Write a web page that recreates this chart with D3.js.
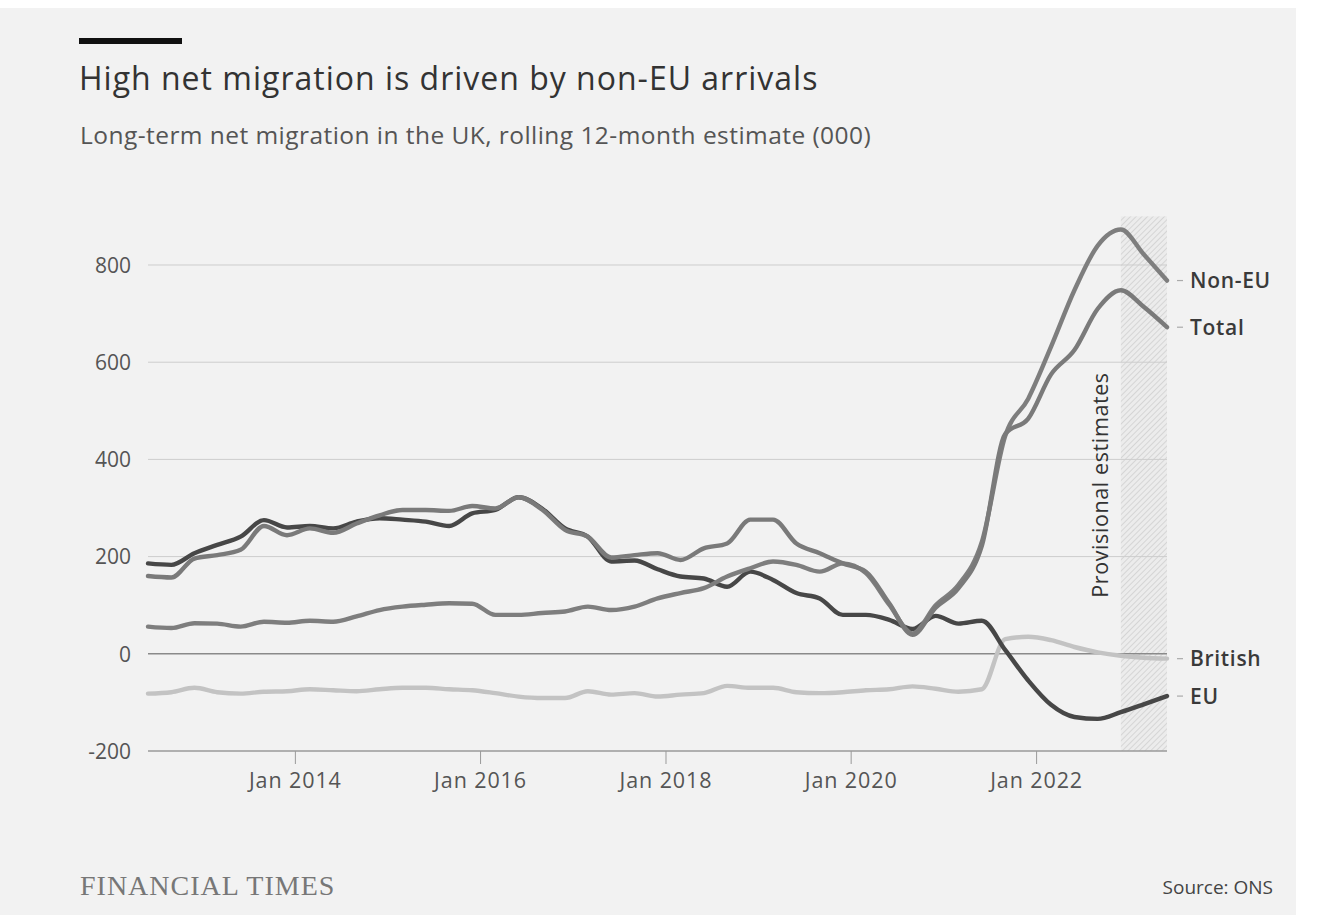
<!DOCTYPE html>
<html>
<head>
<meta charset="utf-8">
<script src="https://cdn.jsdelivr.net/npm/d3@7"></script>
<style>
  html, body { margin: 0; padding: 0; background: #ffffff; }
  svg { display: block; }
</style>
</head>
<body>
<svg id="chart" width="1323" height="921"></svg>
<script>
// ---------- DATA (thousands, rolling 12-month, quarterly YE Jun 2012 – YE Jun 2023) ----------
const startPeriod = "2012-06";
const endPeriod = "2023-06";
const provisionalFrom = "2022-12";

const seriesNames = ["British", "EU", "Non-EU", "Total"];

const eu = [186,183,207,224,241,275,260,263,258,272,279,276,272,263,289,296,322,299,258,241,190,192,174,159,155,138,169,152,125,114,80,80,70,51,78,62,68,8,-55,-105,-130,-134,-120,-104,-87];
const total = [160,157,196,203,214,263,244,258,249,268,285,296,296,294,304,299,322,297,255,241,198,203,207,193,217,227,276,276,227,207,186,169,104,39,95,135,222,452,484,575,625,710,748,714,672];
const nonEu = [56,53,63,62,56,66,64,68,66,77,90,97,101,104,103,80,80,84,87,97,90,97,114,125,135,159,176,190,183,169,186,166,101,42,100,142,230,448,525,632,748,840,873,822,768];
const british = [-82,-79,-70,-79,-82,-78,-77,-73,-75,-77,-73,-70,-70,-73,-75,-81,-88,-91,-91,-77,-84,-81,-88,-84,-81,-66,-70,-70,-79,-81,-79,-75,-73,-67,-72,-78,-73,30,35,28,14,3,-4,-8,-10];

const yTicks = [-200, 0, 200, 400, 600, 800];
const xTickLabels = ["Jan 2014", "Jan 2016", "Jan 2018", "Jan 2020", "Jan 2022"];

const titleText = "High net migration is driven by non-EU arrivals";
const subtitleText = "Long-term net migration in the UK, rolling 12-month estimate (000)";
const sourceText = "Source: ONS";
const brandText = "FINANCIAL TIMES";
const provisionalText = "Provisional estimates";

// ---------- SETUP ----------
const parseMonth = d3.timeParse("%Y-%m");
const parseLabel = d3.timeParse("%b %Y");
const t0 = parseMonth(startPeriod), t1 = parseMonth(endPeriod);
const dates = d3.timeMonth.range(t0, d3.timeMonth.offset(t1, 1), 3);

const valuesByName = { "British": british, "EU": eu, "Non-EU": nonEu, "Total": total };
const colors = { "British": "#c3c3c3", "EU": "#474747", "Non-EU": "#7e7e7e", "Total": "#7a7a7a" };

const svg = d3.select("#chart");
const sansFont = "'Open Sans', 'Noto Sans', sans-serif";

svg.append("rect").attr("x", 0).attr("y", 8).attr("width", 1296).attr("height", 907).attr("fill", "#f2f2f2");

const x = d3.scaleTime().domain([t0, t1]).range([148, 1167]);
const y = d3.scaleLinear().domain([-200, 800]).range([751, 265]);

// Provisional hatched band
const defs = svg.append("defs");
const pat = defs.append("pattern")
  .attr("id", "hatch").attr("patternUnits", "userSpaceOnUse")
  .attr("width", 4).attr("height", 4)
  .attr("patternTransform", "rotate(45)");
pat.append("rect").attr("width", 4).attr("height", 4).attr("fill", "#ececec");
pat.append("line").attr("x1", 0).attr("y1", 0).attr("x2", 0).attr("y2", 4)
  .attr("stroke", "#cfcfcf").attr("stroke-width", 1.6);

const pFrom = parseMonth(provisionalFrom);
svg.append("rect")
  .attr("x", x(pFrom)).attr("y", y(900))
  .attr("width", x(t1) - x(pFrom)).attr("height", y(-200) - y(900))
  .attr("fill", "url(#hatch)");

// Gridlines
const grid = svg.append("g");
grid.selectAll("line").data(yTicks).join("line")
  .attr("x1", x.range()[0]).attr("x2", x.range()[1])
  .attr("y1", d => y(d)).attr("y2", d => y(d))
  .attr("stroke", d => d === 0 ? "#8a8a8a" : (d === -200 ? "#9a9a9a" : "#cdcdcd"))
  .attr("stroke-width", d => (d === 0 || d === -200) ? 1.5 : 1);

// Y axis labels
const yAxis = d3.axisLeft(y).tickValues(yTicks).tickSize(0).tickPadding(0)
  .tickFormat(d => String(d));
const gy = svg.append("g").attr("transform", "translate(131,0)").call(yAxis);
gy.select(".domain").remove();
gy.selectAll("text")
  .attr("fill", "#555").attr("font-size", 21).attr("font-family", sansFont)
  .attr("dy", "0.35em");

// X axis ticks + labels
const xTickDates = xTickLabels.map(s => parseLabel(s));
const xAxis = d3.axisBottom(x).tickValues(xTickDates).tickSize(13).tickPadding(9)
  .tickFormat((d, i) => xTickLabels[i]);
const gx = svg.append("g").attr("transform", `translate(0,${y(-200)})`).call(xAxis);
gx.select(".domain").remove();
gx.selectAll(".tick line").attr("stroke", "#9a9a9a").attr("stroke-width", 1);
gx.selectAll("text")
  .attr("fill", "#555").attr("font-size", 21.5).attr("letter-spacing", "0.9px")
  .attr("font-family", sansFont);

// Lines
const line = d3.line()
  .x((d, i) => x(dates[i]))
  .y(d => y(d))
  .curve(d3.curveMonotoneX);

const drawOrder = ["British", "EU", "Non-EU", "Total"];
svg.append("g").selectAll("path").data(drawOrder).join("path")
  .attr("d", n => line(valuesByName[n]))
  .attr("fill", "none")
  .attr("stroke", n => colors[n])
  .attr("stroke-width", 4.4)
  .attr("stroke-linejoin", "round")
  .attr("stroke-linecap", "round");

// End labels
const labelOrder = ["Non-EU", "Total", "British", "EU"];
const lab = svg.append("g").selectAll("g").data(labelOrder).join("g")
  .attr("transform", n => `translate(0,${y(valuesByName[n][valuesByName[n].length - 1])})`);
lab.append("line").attr("x1", 1177).attr("x2", 1183).attr("y1", 0).attr("y2", 0)
  .attr("stroke", "#aaa").attr("stroke-width", 1.2);
lab.append("text").attr("x", 1190).attr("dy", "0.36em")
  .attr("font-family", sansFont).attr("font-size", 21).attr("font-weight", 600)
  .attr("letter-spacing", "0.7px")
  .attr("fill", "#3a3a3a").text(n => n);

// Provisional label
svg.append("text")
  .attr("transform", "translate(1108,485) rotate(-90)")
  .attr("text-anchor", "middle")
  .attr("font-family", sansFont).attr("font-size", 21.5).attr("letter-spacing", "0.6px")
  .attr("fill", "#333").text(provisionalText);

// Header
svg.append("rect").attr("x", 79).attr("y", 38).attr("width", 103).attr("height", 6).attr("fill", "#111");
svg.append("text").attr("x", 79).attr("y", 90)
  .attr("font-family", sansFont).attr("font-size", 32).attr("letter-spacing", "1px")
  .attr("fill", "#333")
  .text(titleText);
svg.append("text").attr("x", 80).attr("y", 144)
  .attr("font-family", sansFont).attr("font-size", 24.5).attr("letter-spacing", "0.45px")
  .attr("fill", "#555")
  .text(subtitleText);

// Footer
svg.append("text").attr("x", 80).attr("y", 895)
  .attr("font-family", "'Liberation Serif', 'DejaVu Serif', serif").attr("font-size", 28)
  .attr("letter-spacing", "1px")
  .attr("fill", "#777").text(brandText);
svg.append("text").attr("x", 1273).attr("y", 894).attr("text-anchor", "end")
  .attr("font-family", sansFont).attr("font-size", 19).attr("fill", "#444")
  .text(sourceText);
</script>
</body>
</html>
